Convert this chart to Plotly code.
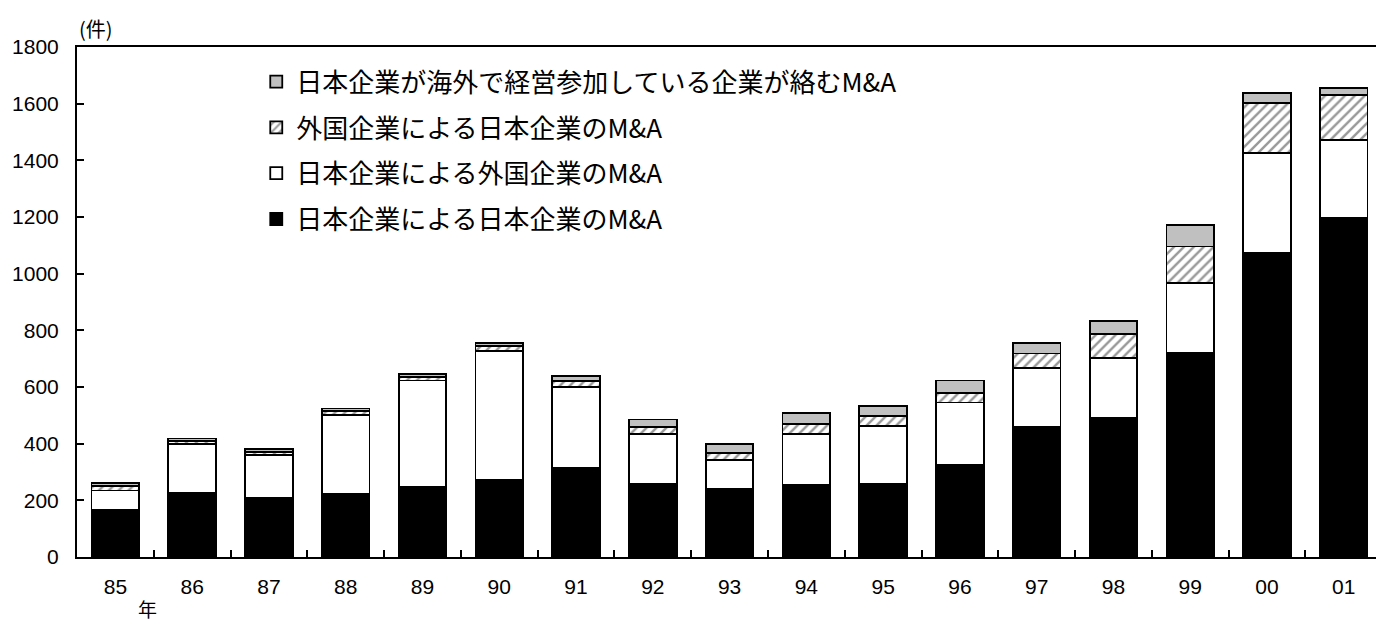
import plotly.graph_objects as go

years = ["85", "86", "87", "88", "89", "90", "91", "92", "93", "94", "95", "96", "97", "98", "99", "00", "01"]
jp_by_jp = [165, 225, 210, 222, 248, 272, 315, 258, 240, 255, 258, 325, 458, 492, 722, 1072, 1196]
jp_by_foreign_target = [70, 175, 150, 280, 375, 455, 285, 175, 103, 180, 205, 220, 210, 210, 244, 353, 276]
foreign_by_jp_target = [15, 10, 12, 12, 12, 18, 20, 27, 25, 35, 35, 33, 50, 84, 130, 176, 159]
overseas_affiliate = [10, 8, 10, 10, 12, 10, 20, 25, 30, 37, 35, 45, 38, 48, 76, 36, 23]

names = [
    "日本企業による日本企業のM&A",
    "日本企業による外国企業のM&A",
    "外国企業による日本企業のM&A",
    "日本企業が海外で経営参加している企業が絡むM&A",
]
y_ticks = [0, 200, 400, 600, 800, 1000, 1200, 1400, 1600, 1800]

line = dict(color="black", width=1.8)
fig = go.Figure()
fig.add_trace(go.Bar(x=years, y=jp_by_jp, name=names[0], legendgroup="a", legendrank=4,
                     marker=dict(color="black", line=line)))
fig.add_trace(go.Bar(x=years, y=jp_by_foreign_target, name=names[1], legendgroup="b", legendrank=3,
                     marker=dict(color="white", line=line)))
fig.add_trace(go.Bar(x=years, y=foreign_by_jp_target, name=names[2], legendgroup="c", legendrank=2,
                     marker=dict(color="white", line=line,
                                 pattern=dict(shape="/", fgcolor="#333333", bgcolor="white",
                                              size=7, solidity=0.35))))
fig.add_trace(go.Bar(x=years, y=overseas_affiliate, name=names[3], legendgroup="d", legendrank=1,
                     marker=dict(color="#c0c0c0", line=line)))

fig.update_layout(
    width=1376, height=627,
    barmode="stack", bargap=0.38,
    plot_bgcolor="white", paper_bgcolor="white",
    margin=dict(l=77, r=0, t=47, b=70),
    font=dict(family="Liberation Sans, Arial", size=21, color="black"),
    legend=dict(
        x=0.138, y=0.978, xanchor="left", yanchor="top",
        traceorder="grouped", tracegroupgap=9,
        font=dict(family="Noto Sans CJK JP", size=26, color="black"),
        bgcolor="rgba(0,0,0,0)", itemwidth=30,
    ),
    xaxis=dict(
        type="category", range=[-0.5, 16.42],
        showline=True, linecolor="black", linewidth=2, mirror=True,
        ticks="inside", tickson="boundaries", ticklen=7, tickwidth=2, tickcolor="black",
        ticklabelstandoff=10, showgrid=False, fixedrange=True,
    ),
    yaxis=dict(
        range=[0, 1800], tickvals=y_ticks,
        showline=True, linecolor="black", linewidth=2,
        ticks="inside", ticklen=7, tickwidth=2, tickcolor="black",
        ticklabelstandoff=12, showgrid=False, zeroline=False,
    ),
    annotations=[
        dict(text="(件)", xref="paper", yref="paper", x=0.0, y=1.0, xanchor="left",
             yanchor="bottom", yshift=2, showarrow=False,
             font=dict(family="Noto Sans CJK JP", size=20)),
        dict(text="年", xref="paper", yref="paper", x=0.029, y=0, xanchor="left",
             yanchor="top", xshift=22, yshift=-37, showarrow=False, borderpad=0,
             font=dict(family="Noto Sans CJK JP", size=19)),
    ],
)
fig.write_html("out.html", config={"displayModeBar": False},
               post_script="document.body.style.margin='0';")
